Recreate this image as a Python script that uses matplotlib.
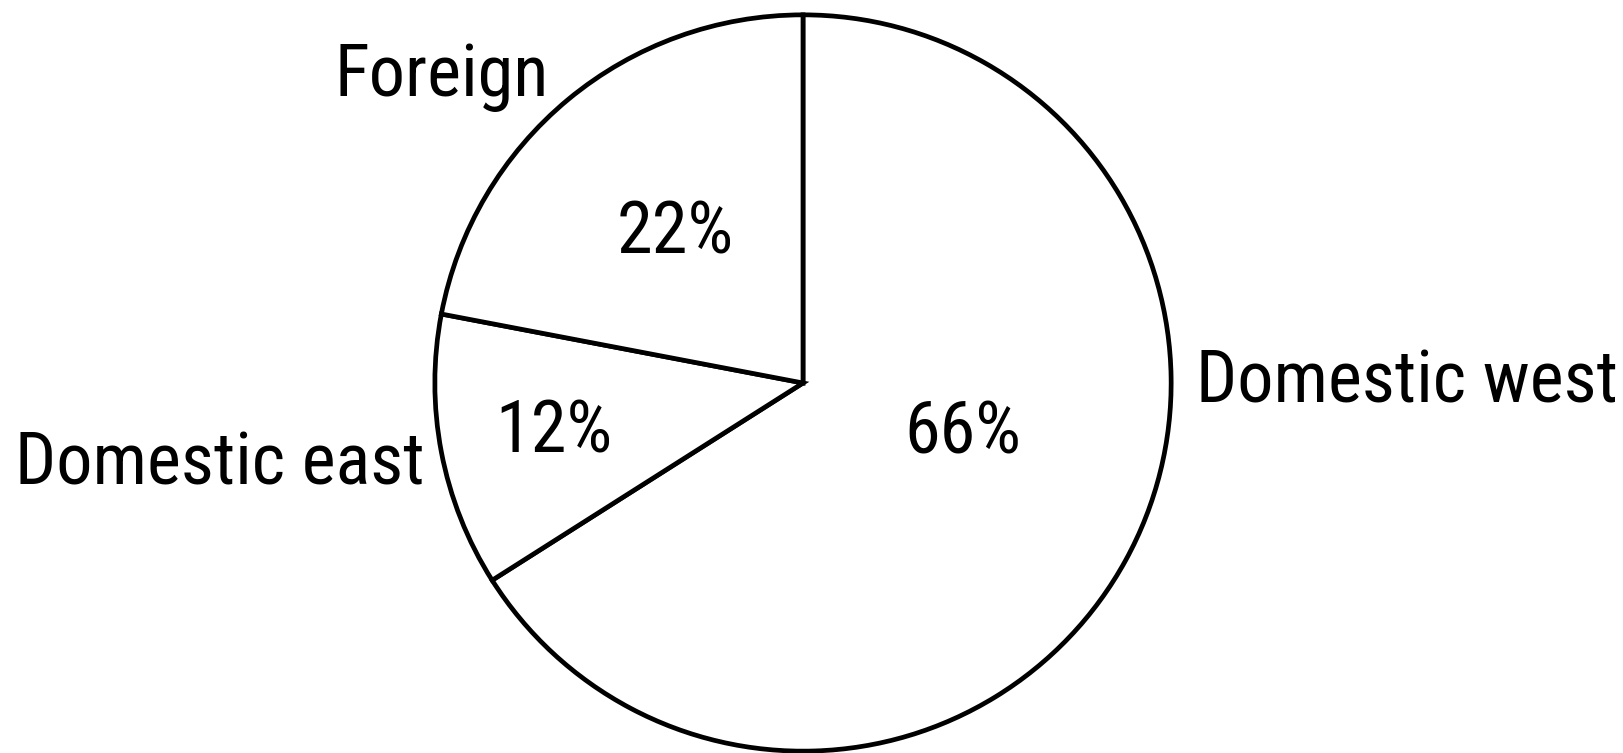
import matplotlib
matplotlib.use("Agg")
import matplotlib.pyplot as plt

categories = ["Domestic west", "Domestic east", "Foreign"]
shares = [66, 12, 22]
pct_labels = ["66%", "12%", "22%"]

plt.rcParams['font.family'] = ['Roboto Condensed', 'Archivo Narrow', 'IBM Plex Sans Condensed', 'DejaVu Sans']

W, H = 1623, 753
fig = plt.figure(figsize=(W / 100, H / 100), dpi=100)
cx, cy, r = 803, 383, 370
ax = fig.add_axes([(cx - r) / W, (H - cy - r) / H, 2 * r / W, 2 * r / H])

wedges, texts = ax.pie(shares, startangle=90, counterclock=False, radius=0.995,
                       colors=['white'] * 3,
                       wedgeprops=dict(edgecolor='black', linewidth=3.4))
ax.set_xlim(-1, 1)
ax.set_ylim(-1, 1)
ax.set_aspect('auto')
ax.axis('off')

fs = 52
label_pos = {"Domestic west": (1.062, 0.0, 'left'),
             "Domestic east": (-1.024, -0.222, 'right'),
             "Foreign": (-0.978, 0.826, 'center')}
pct_pos = {"66%": (0.432, -0.138), "12%": (-0.673, -0.135), "22%": (-0.346, 0.402)}

for cat in categories:
    x, y, ha = label_pos[cat]
    ax.text(x, y, cat, ha=ha, va='center', fontsize=fs, clip_on=False)
for p in pct_labels:
    x, y = pct_pos[p]
    ax.text(x, y, p, ha='center', va='center', fontsize=fs, clip_on=False)

fig.savefig("out.png", dpi=100, facecolor='white')
